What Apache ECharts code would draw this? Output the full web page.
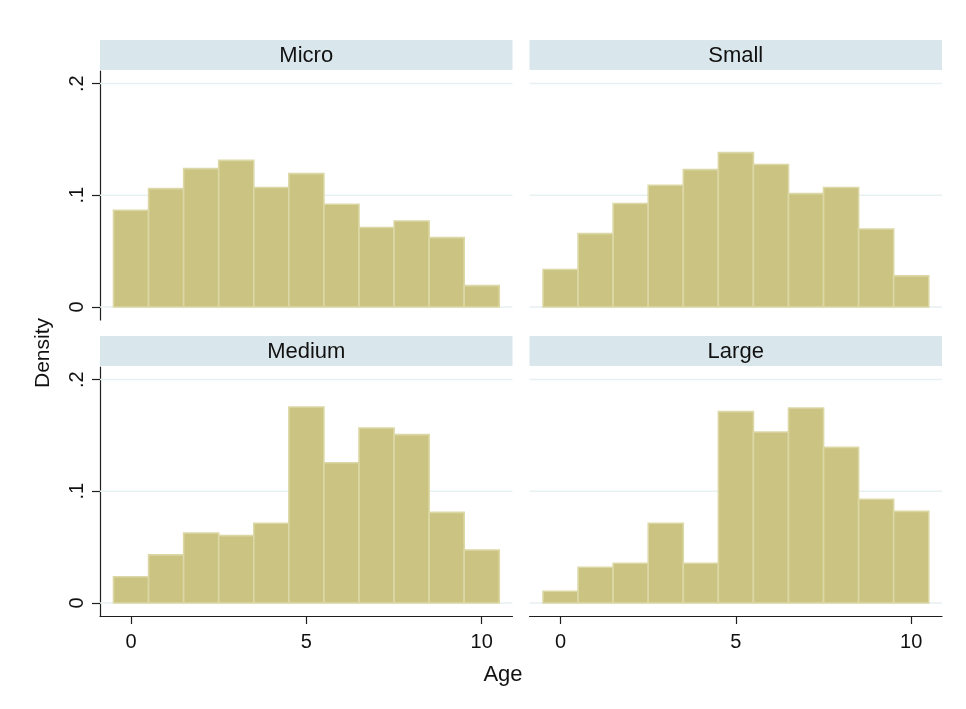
<!DOCTYPE html>
<html>
<head>
<meta charset="utf-8">
<script src="https://cdn.jsdelivr.net/npm/echarts@6/dist/echarts.min.js"></script>
<style>
  html, body { margin: 0; padding: 0; background: #ffffff; }
  #chart { width: 966px; height: 709px; }
</style>
</head>
<body>
<div id="chart"></div>
<script>
// Age bins (bin width 1, centred on each integer)
const ages = [0, 1, 2, 3, 4, 5, 6, 7, 8, 9, 10];

// Firm size groups, one panel each
const groups = ['Micro', 'Small', 'Medium', 'Large'];

// Histogram densities per size group
const microDensity  = [0.0866, 0.1060, 0.1239, 0.1313, 0.1069, 0.1194, 0.0919, 0.0711, 0.0770, 0.0621, 0.0191];
const smallDensity  = [0.0335, 0.0657, 0.0926, 0.1090, 0.1230, 0.1382, 0.1275, 0.1015, 0.1069, 0.0698, 0.0278];
const mediumDensity = [0.0235, 0.0430, 0.0627, 0.0603, 0.0713, 0.1755, 0.1256, 0.1567, 0.1507, 0.0811, 0.0474];
const largeDensity  = [0.0104, 0.0319, 0.0355, 0.0713, 0.0355, 0.1713, 0.1531, 0.1746, 0.1393, 0.0928, 0.0820];

// Axis ticks
const yTickValues = [0, 0.1, 0.2];
const yTickLabels = ['0', '.1', '.2'];
const xTickValues = [0, 5, 10];

const seriesData = [microDensity, smallDensity, mediumDensity, largeDensity];

// Panel boxes (plot regions)
const panelW = 412.5, panelH = 249;
const panels = [
  { left: 100,   top: 71,  showY: true,  showX: false },
  { left: 529.5, top: 71,  showY: false, showX: false },
  { left: 100,   top: 367, showY: true,  showX: true  },
  { left: 529.5, top: 367, showY: false, showX: true  }
];

const FONT = 'Liberation Sans, Arial, Helvetica, sans-serif';
const AXIS_COLOR = '#1e1e1e';
const BAR_FILL = '#cbc382';
const BAR_EDGE = '#dcd8a6';
const GRID_COLOR = '#e8f1f2';
const STRIP_COLOR = '#d9e6eb';

const X_MIN = -0.885, X_MAX = 10.877;
const Y_MIN = -0.0117, Y_MAX = 0.2113;

function yLabel(v) {
  const i = yTickValues.findIndex(t => Math.abs(t - v) < 1e-9);
  return i >= 0 ? yTickLabels[i] : '';
}

// one histogram bin spanning [age - 0.5, age + 0.5]
function renderBin(params, api) {
  const x = api.value(0);
  const y = api.value(1);
  const p0 = api.coord([x - 0.5, 0]);
  const p1 = api.coord([x + 0.5, y]);
  return {
    type: 'rect',
    shape: { x: p0[0], y: p1[1], width: p1[0] - p0[0], height: p0[1] - p1[1] },
    style: { fill: BAR_FILL, stroke: BAR_EDGE, lineWidth: 1.6 }
  };
}

// horizontal gridline across the full plot width
function renderGridLine(params, api) {
  const v = api.value(0);
  const a = api.coord([X_MIN, v]);
  const b = api.coord([X_MAX, v]);
  return {
    type: 'line',
    shape: { x1: a[0], y1: a[1], x2: b[0], y2: b[1] },
    style: { stroke: GRID_COLOR, lineWidth: 1.5 }
  };
}

const grid = [], xAxis = [], yAxis = [], series = [], graphic = [];

panels.forEach((p, i) => {
  grid.push({ left: p.left, top: p.top, width: panelW, height: panelH, containLabel: false });

  xAxis.push({
    gridIndex: i, type: 'value', min: X_MIN, max: X_MAX,
    splitLine: { show: false },
    axisLine: { show: p.showX, onZero: false, lineStyle: { color: AXIS_COLOR, width: 1.2 } },
    axisTick: { show: p.showX, customValues: xTickValues, length: 8, lineStyle: { color: AXIS_COLOR, width: 1.2 } },
    axisLabel: { show: p.showX, customValues: xTickValues, fontSize: 20, color: '#111', fontFamily: FONT, margin: 16 }
  });

  yAxis.push({
    gridIndex: i, type: 'value', min: Y_MIN, max: Y_MAX,
    splitLine: { show: false },
    axisLine: { show: p.showY, onZero: false, lineStyle: { color: AXIS_COLOR, width: 1.2 } },
    axisTick: { show: p.showY, customValues: yTickValues, length: 8, lineStyle: { color: AXIS_COLOR, width: 1.2 } },
    axisLabel: { show: p.showY, customValues: yTickValues, formatter: yLabel, rotate: 90,
                 fontSize: 20, color: '#111', fontFamily: FONT, margin: 13 }
  });

  series.push({
    type: 'custom', xAxisIndex: i, yAxisIndex: i, z: 1, silent: true,
    renderItem: renderGridLine,
    encode: { y: 0 },
    data: yTickValues.map(v => [v])
  });

  series.push({
    type: 'custom', name: groups[i], xAxisIndex: i, yAxisIndex: i, z: 2,
    renderItem: renderBin,
    encode: { x: 0, y: 1 },
    data: ages.map((a, k) => [a, seriesData[i][k]])
  });

  // panel title strip
  graphic.push({
    type: 'group', left: p.left, top: p.top - 31,
    children: [
      { type: 'rect', shape: { x: 0, y: 0, width: panelW, height: 30 }, style: { fill: STRIP_COLOR } },
      { type: 'text', x: panelW / 2, y: 15.5,
        style: { text: groups[i], fill: '#111', font: '22px ' + FONT, textAlign: 'center', textVerticalAlign: 'middle' } }
    ]
  });
});

// shared axis titles
graphic.push({
  type: 'text', x: 43, y: 353, rotation: Math.PI / 2,
  style: { text: 'Density', fill: '#111', font: '21px ' + FONT, textAlign: 'center', textVerticalAlign: 'middle' }
});
graphic.push({
  type: 'text', x: 503, y: 675,
  style: { text: 'Age', fill: '#111', font: '22px ' + FONT, textAlign: 'center', textVerticalAlign: 'middle' }
});

const chart = echarts.init(document.getElementById('chart'), null, { renderer: 'canvas' });
chart.setOption({
  backgroundColor: '#ffffff',
  animation: false,
  grid, xAxis, yAxis, series, graphic
});
</script>
</body>
</html>
